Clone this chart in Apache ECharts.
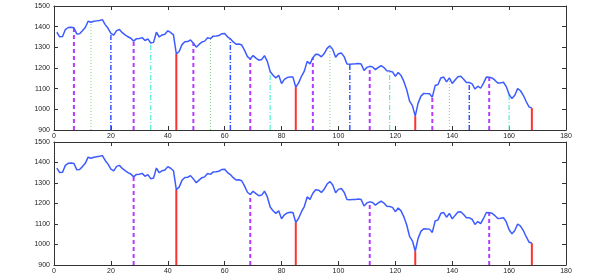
<!DOCTYPE html>
<html>
<head>
<meta charset="utf-8">
<script src="https://cdn.jsdelivr.net/npm/echarts@6/dist/echarts.min.js"></script>
<style>
  html, body { margin: 0; padding: 0; background: #fff; }
  #chart { width: 598px; height: 275px; }
</style>
</head>
<body>
<div id="chart"></div>
<script>
// signal values, sample 1..168
const signal = [
  1373, 1351, 1352, 1386, 1396, 1397, 1395, 1365, 1366, 1380,
  1396, 1426, 1421, 1426, 1428, 1430, 1434, 1410, 1392, 1368,
  1359, 1381, 1386, 1371, 1360, 1351, 1344, 1330, 1342, 1343,
  1347, 1333, 1341, 1321, 1324, 1373, 1350, 1360, 1363, 1380,
  1372, 1360, 1268, 1280, 1313, 1327, 1328, 1336, 1320, 1301,
  1314, 1326, 1330, 1346, 1342, 1354, 1355, 1357, 1366, 1367,
  1351, 1341, 1326, 1315, 1316, 1311, 1285, 1255, 1244, 1260,
  1248, 1238, 1241, 1260, 1232, 1183, 1165, 1152, 1165, 1125,
  1145, 1154, 1157, 1156, 1107, 1128, 1160, 1185, 1232, 1220,
  1250, 1267, 1265, 1254, 1270, 1295, 1307, 1290, 1252, 1269,
  1273, 1255, 1219, 1218, 1219, 1220, 1222, 1219, 1188, 1203,
  1208, 1205, 1192, 1203, 1211, 1202, 1187, 1185, 1181, 1160,
  1178, 1164, 1135, 1095, 1040, 1018, 967, 1030, 1064, 1077,
  1076, 1075, 1059, 1115, 1120, 1152, 1156, 1133, 1152, 1125,
  1142, 1158, 1160, 1146, 1130, 1130, 1123, 1098, 1112, 1102,
  1127, 1156, 1155, 1152, 1141, 1127, 1128, 1131, 1110, 1072,
  1052, 1068, 1100, 1090, 1068, 1038, 1012, 1006
];

// stem positions (sample index)
const redX = [43, 85, 127, 168];
const purpleX = [7, 28, 49, 69, 91, 111, 133, 153];
const greenX = [13, 55, 97, 139];
const blueX = [20, 62, 104, 146];
const cyanX = [34, 76, 118, 160];
const purpleBottomX = [28, 69, 111, 153];

const chart = echarts.init(document.getElementById('chart'));

const curveData = signal.map((v, i) => [i + 1, v]);

// axes helpers
const labelStyle = {
  fontSize: 7, color: '#222', fontFamily: 'Liberation Sans, Arial',
  formatter: v => String(v)
};
const lineCol = '#333';

function xAxes(gi) {
  return [
    {
      type: 'value', gridIndex: gi, min: 0, max: 180, interval: 20, position: 'bottom',
      axisLine: { onZero: false, lineStyle: { color: lineCol, width: 1 } },
      axisTick: { inside: true, length: 4, lineStyle: { color: lineCol } },
      axisLabel: Object.assign({ margin: 3 }, labelStyle),
      splitLine: { show: false }
    },
    {
      type: 'value', gridIndex: gi, min: 0, max: 180, interval: 20, position: 'top',
      axisLine: { onZero: false, lineStyle: { color: lineCol, width: 1 } },
      axisTick: { inside: true, length: 4, lineStyle: { color: lineCol } },
      axisLabel: { show: false },
      splitLine: { show: false }
    }
  ];
}

function yAxes(gi) {
  return [
    {
      type: 'value', gridIndex: gi, min: 900, max: 1500, interval: 100, position: 'left',
      axisLine: { onZero: false, lineStyle: { color: lineCol, width: 1 } },
      axisTick: { inside: true, length: 4, lineStyle: { color: lineCol } },
      axisLabel: Object.assign({ margin: 4 }, labelStyle),
      splitLine: { show: false }
    },
    {
      type: 'value', gridIndex: gi, min: 900, max: 1500, interval: 100, position: 'right',
      axisLine: { onZero: false, lineStyle: { color: lineCol, width: 1 } },
      axisTick: { inside: true, length: 4, lineStyle: { color: lineCol } },
      axisLabel: { show: false },
      splitLine: { show: false }
    }
  ];
}

// one vertical stem from the bottom up to the curve
function stems(xs, gi, color, width, type) {
  return xs.map(x => ({
    type: 'line',
    xAxisIndex: gi * 2,
    yAxisIndex: gi * 2,
    data: [[x, 900], [x, signal[x - 1]]],
    showSymbol: false,
    silent: true,
    z: 1,
    lineStyle: { color: color, width: width, type: type }
  }));
}

function curve(gi) {
  return {
    type: 'line',
    xAxisIndex: gi * 2,
    yAxisIndex: gi * 2,
    data: curveData,
    showSymbol: false,
    z: 3,
    lineStyle: { color: '#3d5cff', width: 1.5 }
  };
}

const purple = '#b43cff';
const series = [].concat(
  stems(purpleX, 0, purple, 2, [4, 3]),
  stems(greenX, 0, '#7fd47f', 1, [1, 2]),
  stems(blueX, 0, '#3355ff', 1.5, [5, 2, 1, 2]),
  stems(cyanX, 0, '#55eed0', 1.2, [5, 2, 1, 2]),
  stems(redX, 0, '#ff3030', 2, 'solid'),
  [curve(0)],
  stems(purpleBottomX, 1, purple, 2, [4, 3]),
  stems(redX, 1, '#ff3030', 2, 'solid'),
  [curve(1)]
);

const option = {
  animation: false,
  backgroundColor: '#fff',
  grid: [
    { left: 54, right: 32, top: 6, bottom: 145 },
    { left: 54, right: 32, top: 142, bottom: 9 }
  ],
  xAxis: xAxes(0).concat(xAxes(1)),
  yAxis: yAxes(0).concat(yAxes(1)),
  series: series
};

chart.setOption(option);
</script>
</body>
</html>
